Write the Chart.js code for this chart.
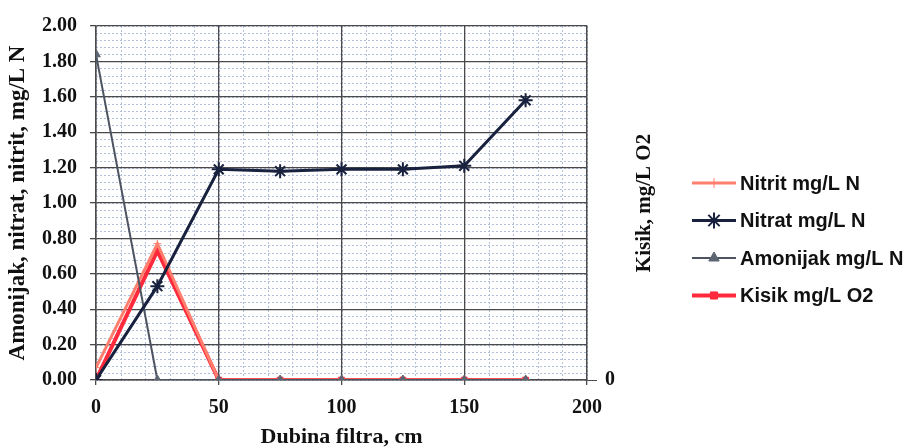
<!DOCTYPE html>
<html>
<head>
<meta charset="utf-8">
<title>Dubina filtra</title>
<script src="https://cdn.jsdelivr.net/npm/chart.js@4.4.1/dist/chart.umd.min.js"></script>
<style>
    html, body { margin: 0; padding: 0; background: #fff; }
    #wrap { width: 903px; height: 448px; }
</style>
</head>
<body>
<div id="wrap"><canvas id="filterChart" width="903" height="448"></canvas></div>
<script>
// Podaci
const dubina = [0, 25, 50, 75, 100, 125, 150, 175];
const nitrit = [0.07, 0.77, 0, 0, 0, 0, 0, 0];
const nitrat = [0.0, 0.53, 1.19, 1.18, 1.19, 1.19, 1.21, 1.58];
const amonijak = [1.84, 0, 0, 0, 0, 0, 0, 0];
const kisik = [0.0, 0.73, 0, 0, 0, 0, 0, 0];

const nazivi = ['Nitrit mg/L N', 'Nitrat mg/L N', 'Amonijak mg/L N', 'Kisik mg/L O2'];
const xMinorStep = 10;
const yMinorStep = 0.04;

const SERIF = "'Liberation Serif', 'Times New Roman', serif";
const SANS = "'Liberation Sans', Arial, sans-serif";
const MAJOR = '#4a4a4a';
const MINOR = '#b1bfdc';

function toPoints(values) {
    return dubina.map((d, i) => ({ x: d, y: values[i] }));
}

// Sitna mreza (tockasta) ispod glavne
const minorGridPlugin = {
    id: 'minorGrid',
    beforeDraw(chart) {
        const ctx = chart.ctx;
        const area = chart.chartArea;
        const xs = chart.scales.x;
        const ys = chart.scales.y;
        ctx.save();
        ctx.strokeStyle = MINOR;
        ctx.lineWidth = 1;
        ctx.setLineDash([2, 2]);
        ctx.beginPath();
        for (let v = xs.min; v <= xs.max + 1e-9; v += xMinorStep) {
            const px = Math.round(xs.getPixelForValue(v)) + 0.5;
            ctx.moveTo(px, area.top);
            ctx.lineTo(px, area.bottom);
        }
        for (let k = 0; k * yMinorStep <= ys.max + 1e-9; k++) {
            const py = Math.round(ys.getPixelForValue(k * yMinorStep)) + 0.5;
            ctx.moveTo(area.left, py);
            ctx.lineTo(area.right, py);
        }
        ctx.stroke();
        ctx.restore();
    }
};

// Naslov desne osi (cita se odozdo prema gore) i legenda
const sidePlugin = {
    id: 'sideLegend',
    afterDraw(chart) {
        const ctx = chart.ctx;
        const y2 = chart.scales.y2;
        ctx.save();
        ctx.translate(645, (y2.top + y2.bottom) / 2);
        ctx.rotate(-Math.PI / 2);
        ctx.fillStyle = '#111';
        ctx.font = 'bold 21px ' + SERIF;
        ctx.textAlign = 'center';
        ctx.textBaseline = 'middle';
        ctx.fillText('Kisik, mg/L O2', 0, 0);
        ctx.restore();

        const x0 = 692, x1 = 736, y0 = 183, step = 37.5;
        chart.data.datasets.forEach((ds, i) => {
            const y = y0 + i * step;
            ctx.save();
            ctx.strokeStyle = ds.borderColor;
            ctx.lineWidth = ds.borderWidth;
            ctx.beginPath();
            ctx.moveTo(x0, y);
            ctx.lineTo(x1, y);
            ctx.stroke();
            ctx.fillStyle = ds.pointBackgroundColor;
            ctx.strokeStyle = ds.pointBorderColor;
            ctx.lineWidth = ds.pointBorderWidth;
            Chart.helpers.drawPoint(ctx, {
                pointStyle: ds.pointStyle,
                radius: ds.pointRadius + 1,
                rotation: 0,
                borderWidth: ds.pointBorderWidth
            }, (x0 + x1) / 2, y);
            ctx.fillStyle = '#111';
            ctx.font = 'bold 20px ' + SANS;
            ctx.textBaseline = 'middle';
            ctx.textAlign = 'left';
            ctx.fillText(ds.label, x1 + 4, y + 1);
            ctx.restore();
        });
    }
};

document.addEventListener('DOMContentLoaded', function() {
    const ctx = document.getElementById('filterChart').getContext('2d');

    new Chart(ctx, {
        type: 'line',
        data: {
            datasets: [{
                label: nazivi[0],
                data: toPoints(nitrit),
                borderColor: '#ff7f6e',
                borderWidth: 3,
                pointStyle: 'cross',
                pointRadius: 4,
                pointBorderWidth: 1,
                pointBackgroundColor: '#ff7f6e',
                pointBorderColor: '#ff7f6e',
                yAxisID: 'y',
                order: 2
            }, {
                label: nazivi[1],
                data: toPoints(nitrat),
                borderColor: '#18213d',
                borderWidth: 3,
                pointStyle: 'star',
                pointRadius: 7,
                pointBorderWidth: 2,
                pointBackgroundColor: '#18213d',
                pointBorderColor: '#18213d',
                yAxisID: 'y',
                order: 0
            }, {
                label: nazivi[2],
                data: toPoints(amonijak),
                borderColor: '#4d5461',
                borderWidth: 2,
                pointStyle: 'triangle',
                pointRadius: 5,
                pointBorderWidth: 1,
                pointBackgroundColor: '#5d6572',
                pointBorderColor: '#5d6572',
                yAxisID: 'y',
                order: 1
            }, {
                label: nazivi[3],
                data: toPoints(kisik),
                borderColor: '#ff2a3c',
                borderWidth: 4,
                pointStyle: 'rect',
                pointRadius: 4,
                pointBorderWidth: 1,
                pointBackgroundColor: '#ff2a3c',
                pointBorderColor: '#ff2a3c',
                yAxisID: 'y2',
                order: 3
            }]
        },
        options: {
            responsive: false,
            animation: false,
            devicePixelRatio: 1,
            layout: { padding: { left: 0, right: 246, top: 26, bottom: 0 } },
            plugins: {
                legend: { display: false },
                tooltip: { enabled: false }
            },
            elements: { line: { tension: 0 } },
            scales: {
                x: {
                    type: 'linear',
                    min: 0,
                    max: 200,
                    afterFit: function(scale) { scale.height = 68; },
                    ticks: {
                        stepSize: 50,
                        maxRotation: 0,
                        padding: 11,
                        color: '#111',
                        font: { family: SERIF, size: 20, weight: 'bold' }
                    },
                    grid: { color: MAJOR, lineWidth: 1.3, tickLength: 5, tickColor: MAJOR },
                    border: { color: MAJOR, width: 1.5 },
                    title: {
                        display: true,
                        text: 'Dubina filtra, cm',
                        color: '#111',
                        padding: { top: 0, bottom: -3 },
                        font: { family: SERIF, size: 22, weight: 'bold' }
                    }
                },
                y: {
                    position: 'left',
                    min: 0,
                    max: 2,
                    afterFit: function(scale) { scale.width = 96; },
                    ticks: {
                        stepSize: 0.2,
                        padding: 13,
                        color: '#111',
                        font: { family: SERIF, size: 20, weight: 'bold' },
                        callback: function(value) { return value.toFixed(2); }
                    },
                    grid: { color: MAJOR, lineWidth: 1.3, tickLength: 6, tickColor: MAJOR },
                    border: { color: MAJOR, width: 1.5 },
                    title: {
                        display: true,
                        text: 'Amonijak, nitrat, nitrit, mg/L N',
                        color: '#111',
                        padding: { top: 4, bottom: 0 },
                        font: { family: SERIF, size: 23, weight: 'bold' }
                    }
                },
                y2: {
                    position: 'right',
                    min: 0,
                    max: 2,
                    afterFit: function(scale) { scale.width = 70; },
                    ticks: {
                        stepSize: 2,
                        padding: 8,
                        color: '#111',
                        font: { family: SERIF, size: 20, weight: 'bold' },
                        callback: function(value) { return value === 0 ? '0' : ''; }
                    },
                    grid: {
                        drawOnChartArea: false,
                        tickLength: 10,
                        tickColor: c => (c.tick && c.tick.value === 0 ? MAJOR : 'rgba(0,0,0,0)')
                    },
                    border: { color: MAJOR, width: 1.3 }
                }
            }
        },
        plugins: [minorGridPlugin, sidePlugin]
    });
});
</script>
</body>
</html>
